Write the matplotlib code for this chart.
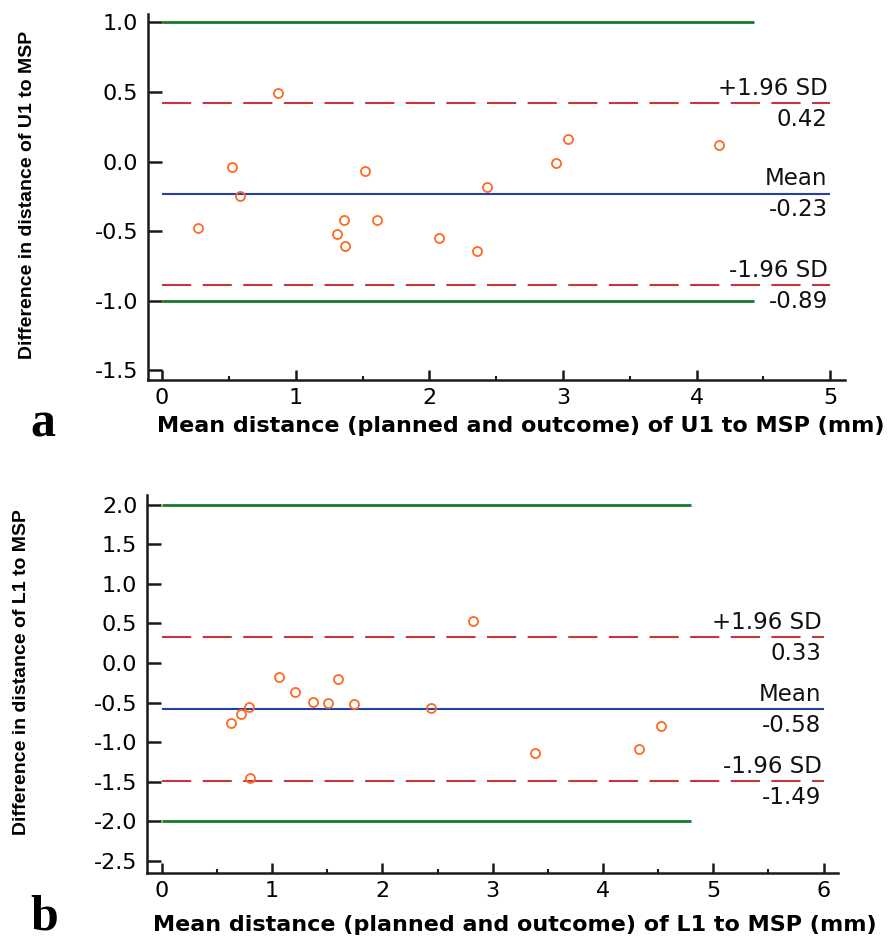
import numpy as np
import matplotlib
matplotlib.use("Agg")
import matplotlib.pyplot as plt
from matplotlib.ticker import MultipleLocator, FormatStrFormatter

plt.rcParams['axes.unicode_minus'] = False
plt.rcParams['font.family'] = ['DejaVu Sans']

# --- panel a : U1 ---
u1_mean_dist = [0.27, 0.52, 0.58, 0.87, 1.31, 1.36, 1.37, 1.52, 1.61, 2.07,
                2.36, 2.43, 2.95, 3.04, 4.17]
u1_diff = [-0.48, -0.04, -0.25, 0.49, -0.52, -0.42, -0.61, -0.07, -0.42, -0.55,
           -0.645, -0.18, -0.014, 0.16, 0.12]
u1_mean, u1_lo, u1_hi = -0.23, -0.89, 0.42
u1_limits = (-1.0, 1.0)

# --- panel b : L1 ---
l1_mean_dist = [0.63, 0.72, 0.79, 0.80, 1.06, 1.21, 1.37, 1.51, 1.60, 1.74,
                2.44, 2.82, 3.38, 4.33, 4.53]
l1_diff = [-0.76, -0.645, -0.557, -1.45, -0.18, -0.36, -0.49, -0.50, -0.20, -0.52,
           -0.57, 0.53, -1.14, -1.08, -0.80]
l1_mean, l1_lo, l1_hi = -0.58, -1.49, 0.33
l1_limits = (-2.0, 2.0)

GREEN = "#17792b"
RED = "#c8363c"
BLUE = "#2442a4"
ORANGE = "#ff6a22"
W, H = 894, 940


def panel(ax, x, y, mean, lo, hi, lims, xlim, ylim, xmax_line, xgreen):
    ax.set_xlim(*xlim)
    ax.set_ylim(*ylim)
    for s in ("top", "right"):
        ax.spines[s].set_visible(False)
    for s in ("left", "bottom"):
        ax.spines[s].set_linewidth(1.8)
        ax.spines[s].set_color("#1a1a1a")

    ax.hlines(lims, 0, xgreen, color=GREEN, lw=2.0)
    ax.hlines([hi, lo], 0, xmax_line, color=RED, lw=1.5, linestyles=[(0, (14, 5.5))])
    ax.hlines(mean, 0, xmax_line, color=BLUE, lw=1.5)
    ax.plot(x, y, "o", ms=6.5, mfc="none", mec=ORANGE, mew=1.3)

    xr = xmax_line - 0.02
    kw = dict(ha="right", fontsize=16.5, color="#111111")
    for name, val in (("+1.96 SD", hi), ("Mean", mean), ("-1.96 SD", lo)):
        ax.annotate(name, (xr, val), xytext=(0, 6), textcoords="offset points",
                    va="baseline", **kw)
        ax.annotate(f"{val:.2f}", (xr, val), xytext=(0, -3.5), textcoords="offset points",
                    va="top", **kw)

    ax.xaxis.set_major_locator(MultipleLocator(1))
    ax.xaxis.set_minor_locator(MultipleLocator(0.5))
    ax.yaxis.set_major_locator(MultipleLocator(0.5))
    ax.yaxis.set_major_formatter(FormatStrFormatter("%.1f"))
    ax.tick_params(axis="y", which="major", direction="in", length=10, width=1.8,
                   labelsize=16, pad=7, color="#1a1a1a")
    ax.tick_params(axis="x", which="major", direction="in", length=7, width=1.8,
                   labelsize=16, pad=6, color="#1a1a1a")
    ax.tick_params(axis="x", which="minor", direction="in", length=3, width=1.5, color="#1a1a1a")


fig = plt.figure(figsize=(W / 100, H / 100), dpi=100)

ax1 = fig.add_axes([148 / W, 1 - 380 / H, (845 - 148) / W, (380 - 14) / H])
panel(ax1, u1_mean_dist, u1_diff, u1_mean, u1_lo, u1_hi, u1_limits,
      (-0.105, 5.11), (-1.57, 1.06), 5.0, 4.43)

ax2 = fig.add_axes([147 / W, 1 - 873 / H, (838 - 147) / W, (873 - 495) / H])
panel(ax2, l1_mean_dist, l1_diff, l1_mean, l1_lo, l1_hi, l1_limits,
      (-0.133, 6.13), (-2.65, 2.12), 6.0, 4.8)

# axis titles
fig.text(28 / W, 1 - 195 / H, "Difference in distance of U1 to MSP", rotation=90,
         ha="center", va="center", fontsize=14, fontweight="bold", family="Liberation Sans")
fig.text(22 / W, 1 - 672 / H, "Difference in distance of L1 to MSP", rotation=90,
         ha="center", va="center", fontsize=14, fontweight="bold", family="Liberation Sans")
fig.text(521 / W, 1 - 426 / H, "Mean distance (planned and outcome) of U1 to MSP (mm)",
         ha="center", va="center", fontsize=16, fontweight="bold")
fig.text(515 / W, 1 - 925 / H, "Mean distance (planned and outcome) of L1 to MSP (mm)",
         ha="center", va="center", fontsize=16, fontweight="bold")

# panel letters
fig.text(30 / W, 1 - 437 / H, "a", ha="left", va="baseline", fontsize=36,
         fontweight="bold", family="Liberation Serif")
fig.text(30 / W, 1 - 930 / H, "b", ha="left", va="baseline", fontsize=36,
         fontweight="bold", family="Liberation Serif")

fig.savefig("out.png", dpi=100)
